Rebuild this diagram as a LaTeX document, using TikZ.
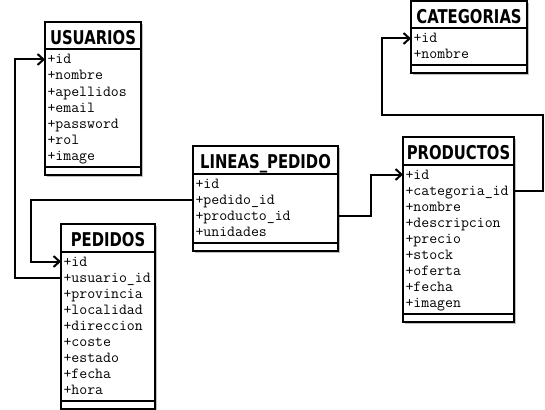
\documentclass[tikz,border=0pt]{standalone}
\usepackage{fontspec}
\newfontfamily\titlefont[FakeStretch=0.78]{DejaVu Sans}
\usetikzlibrary{arrows.meta,backgrounds,calc}
\tikzset{
  tbox/.style={draw, line width=2pt, fill=white, inner sep=0pt, outer sep=0pt, anchor=north west},
  hdr/.style={tbox, font=\titlefont\bfseries\fontsize{19}{19}\selectfont, text height=17.3pt, text depth=0pt, minimum height=27.5pt},
  attr/.style={font=\ttfamily\fontsize{15.4}{16}\selectfont, anchor=base west, inner sep=0pt, outer sep=0pt, xshift=2.5pt, text height=10pt, text depth=1pt},
  link/.style={line width=2pt},
  arr/.style={link, -{Straight Barb[length=6pt,width=11pt]}}
}
\newcommand\umltab[7]{%
  \node[hdr, minimum width=#4pt] (#1) at (#3,#5) {#2};
  \node[tbox, minimum width=#4pt, minimum height={(16*#6+5)*1pt}] (#1-a) at (#1.south west) {};
  \node[tbox, minimum width=#4pt, minimum height=8pt] (#1-b) at (#1-a.south west) {};
  \foreach \t [count=\i] in {#7} {
    \node[attr] (#1-\i) at ($(#1-a.north west)+(0,{14.5+16*(\i-1)})$) {\t};
  }
}
\begin{document}
\begin{tikzpicture}[x=1pt,y=-1pt]
\useasboundingbox (0,0) rectangle (545,409);
\umltab{usu}{USUARIOS}{45}{96}{22}{7}{+id,+nombre,+apellidos,+email,+password,+rol,+image}
\umltab{ped}{PEDIDOS}{61}{94}{224}{9}{+id,+usuario\_id,+provincia,+localidad,+direccion,+coste,+estado,+fecha,+hora}
\umltab{lin}{LINEAS\_PEDIDO}{193}{145}{146}{4}{+id,+pedido\_id,+producto\_id,+unidades}
\umltab{pro}{PRODUCTOS}{403}{111}{137}{9}{+id,+categoria\_id,+nombre,+descripcion,+precio,+stock,+oferta,+fecha,+imagen}
\umltab{cat}{CATEGORIAS}{411}{116}{1}{2}{+id,+nombre}
\begin{scope}[on background layer]
  \foreach \n in {usu,ped,lin,pro,cat}
    \fill[gray!50] ([shift={(2,2)}]\n.north west) rectangle ([shift={(2,2)}]\n-b.south east);
\end{scope}
\draw[arr] (ped-a.west |- ped-2) -- ++(-46,0) |- (usu-a.west |- usu-1);
\draw[arr] (lin-a.west |- lin-2) -- ++(-162,0) |- (ped-a.west |- ped-1);
\draw[arr] (lin-a.east |- lin-3) -- ++(33,0) |- (pro-a.west |- pro-1);
\draw[arr] (pro-a.east |- pro-2) -| (543,115) -- (382,115) |- (cat-a.west |- cat-1);
\end{tikzpicture}
\end{document}
